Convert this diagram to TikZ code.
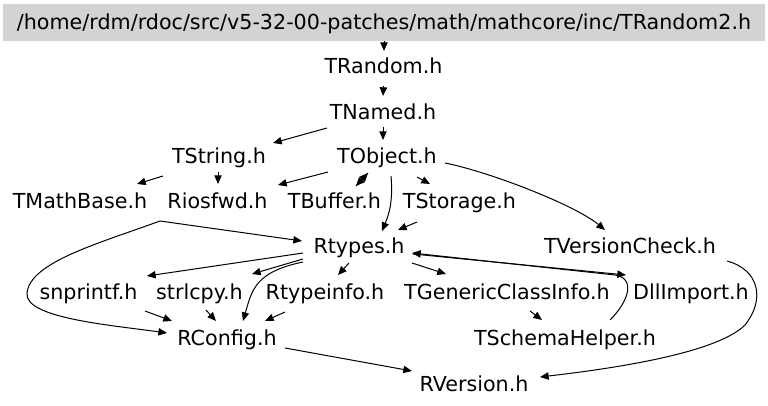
\documentclass[tikz,border=0pt]{standalone}
\usepackage{fontspec}
\setmainfont{DejaVu Sans}
\usetikzlibrary{arrows.meta}
\definecolor{boxgray}{HTML}{D3D3D3}
\begin{document}
\begin{tikzpicture}[x=0.75pt,y=-0.75pt,
  lbl/.style={inner sep=0pt, anchor=base, font=\fontsize{15.5pt}{18pt}\selectfont},
  titlebox/.style={fill=boxgray, draw=none, inner sep=0pt, minimum width=571.5pt, minimum height=27.75pt,
    text height=11.8pt, text depth=0.55pt, font=\fontsize{15.5pt}{18pt}\selectfont},
  dep/.style={line width=0.75pt, -{Triangle[length=6.5pt,width=5.5pt]}},
]
\useasboundingbox (0,0) rectangle (768,406);

% nodes
\node[titlebox] (Title) at (384,22.5) {/home/rdm/rdoc/src/v5-32-00-patches/math/mathcore/inc/TRandom2.h};
\node[lbl] (TRandom) at (383.5,74) {TRandom.h};
\node[lbl] (TNamed) at (383,120) {TNamed.h};
\node[lbl] (TString) at (219,164) {TString.h};
\node[lbl] (TObject) at (387,164) {TObject.h};
\node[lbl] (TMathBase) at (80,209) {TMathBase.h};
\node[lbl] (Riosfwd) at (217.5,209) {Riosfwd.h};
\node[lbl] (TBuffer) at (334.5,209) {TBuffer.h};
\node[lbl] (TStorage) at (459.5,209) {TStorage.h};
\node[lbl] (Rtypes) at (359,253.5) {Rtypes.h};
\node[lbl] (TVersionCheck) at (630,253.5) {TVersionCheck.h};
\node[lbl] (snprintf) at (88.5,299.5) {snprintf.h};
\node[lbl] (strlcpy) at (199.5,299.5) {strlcpy.h};
\node[lbl] (Rtypeinfo) at (325,299.5) {Rtypeinfo.h};
\node[lbl] (TGCI) at (507,299.5) {TGenericClassInfo.h};
\node[lbl] (DllImport) at (691,299.5) {DllImport.h};
\node[lbl] (RConfig) at (227,345) {RConfig.h};
\node[lbl] (TSchemaHelper) at (565,345) {TSchemaHelper.h};
\node[lbl] (RVersion) at (474,391) {RVersion.h};

% edges
\draw[dep] (Title.south) -- ([shift={(0.5,-23)}]TRandom.base);
\draw[dep] ([shift={(0,12)}]TRandom.base) -- ([shift={(0,-24)}]TNamed.base);
\draw[dep] ([shift={(-56,8)}]TNamed.base) -- ([shift={(54,-21)}]TString.base);
\draw[dep] ([shift={(0,7)}]TNamed.base) -- ([shift={(-4,-24)}]TObject.base);
\draw[dep] ([shift={(-56,12)}]TString.base) -- ([shift={(57,-25)}]TMathBase.base);
\draw[dep] ([shift={(-1,8)}]TString.base) -- ([shift={(0.5,-25)}]Riosfwd.base);
\draw[dep] ([shift={(-59,8)}]TObject.base) -- ([shift={(60.5,-24)}]Riosfwd.base);
\draw[dep] ([shift={(-19,9)}]TObject.base) -- ([shift={(21.5,-23)}]TBuffer.base);
\draw[dep] ([shift={(21.5,-23)}]TBuffer.base) -- ([shift={(-19,9)}]TObject.base);
\draw[dep] ([shift={(30,13)}]TObject.base) -- ([shift={(-29.5,-25)}]TStorage.base);
\draw[dep] ([shift={(4,12)}]TObject.base) .. controls (393,198) and (390,212) .. ([shift={(23,-22.5)}]Rtypes.base);
\draw[dep] ([shift={(58,-1)}]TObject.base) .. controls (490,172) and (575,205) .. ([shift={(-25,-23.5)}]TVersionCheck.base);
\draw[dep] ([shift={(-42.5,13)}]TStorage.base) -- ([shift={(39,-23.5)}]Rtypes.base);
\draw[dep] ([shift={(80,12)}]TMathBase.base) -- ([shift={(-57,-12.5)}]Rtypes.base);
\draw[dep] ([shift={(80,12)}]TMathBase.base) .. controls (100,243) and (30,262) .. (27,293)
   .. controls (24,318) and (110,325) .. ([shift={(-60,-12)}]RConfig.base);
\draw[dep] ([shift={(-56,-0.5)}]Rtypes.base) -- ([shift={(58.5,-23.5)}]snprintf.base);
\draw[dep] ([shift={(-56,5.5)}]Rtypes.base) -- ([shift={(52.5,-25.5)}]strlcpy.base);
\draw[dep] ([shift={(-56,8.5)}]Rtypes.base) .. controls (255,272) and (252,290) .. ([shift={(16,-24)}]RConfig.base);
\draw[dep] ([shift={(-10,9.5)}]Rtypes.base) -- ([shift={(13,-24.5)}]Rtypeinfo.base);
\draw[dep] ([shift={(53,9.5)}]Rtypes.base) -- ([shift={(-61,-25.5)}]TGCI.base);
\draw[dep] ([shift={(54,0.5)}]Rtypes.base) -- ([shift={(-65,-24.5)}]DllImport.base);
\draw[dep] ([shift={(45,-25)}]TSchemaHelper.base) .. controls (630,300) and (635,278) .. (615,275)
   -- ([shift={(53,-0.5)}]Rtypes.base);
\draw[dep] ([shift={(23,11.5)}]TGCI.base) -- ([shift={(-23,-25)}]TSchemaHelper.base);
\draw[dep] ([shift={(97,7.5)}]TVersionCheck.base) .. controls (760,270) and (765,300) .. (745,325)
   .. controls (715,355) and (600,370) .. ([shift={(66,-14)}]RVersion.base);
\draw[dep] ([shift={(56.5,11.5)}]snprintf.base) -- ([shift={(-55,-24)}]RConfig.base);
\draw[dep] ([shift={(6.5,10.5)}]strlcpy.base) -- ([shift={(-11,-24)}]RConfig.base);
\draw[dep] ([shift={(-40,12.5)}]Rtypeinfo.base) -- ([shift={(38,-24)}]RConfig.base);
\draw[dep] ([shift={(58,3)}]RConfig.base) -- ([shift={(-62,-20)}]RVersion.base);
\end{tikzpicture}
\end{document}
